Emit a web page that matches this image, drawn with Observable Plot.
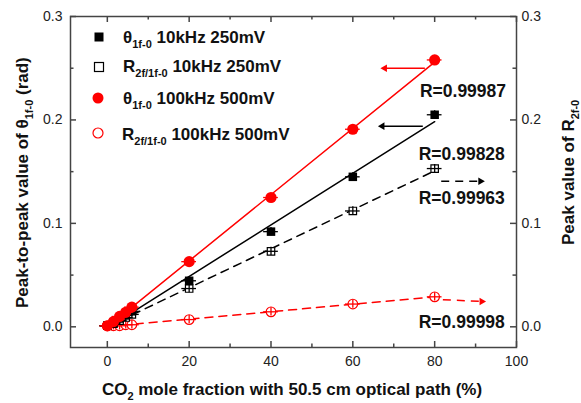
<!DOCTYPE html>
<html><head><meta charset="utf-8">
<script src="https://cdn.jsdelivr.net/npm/d3@7"></script>
<script src="https://cdn.jsdelivr.net/npm/@observablehq/plot@0.6"></script>
<style>
body{margin:0;background:#fff;}
#wrap{position:relative;width:581px;height:403px;font-family:"Liberation Sans",Arial,sans-serif;}
.leg{position:absolute;font-weight:bold;font-size:17px;white-space:nowrap;line-height:17px;color:#111;}
.leg sub{font-size:11px;vertical-align:-5px;line-height:0;}
.sym{position:absolute;}
</style></head><body><div id="wrap"></div>
<script>
// ---- data ----
const conc = [0, 1.5, 3, 4.5, 6, 20, 40, 60, 80];
const theta10k = [0.001, 0.004, 0.008, 0.011, 0.015, 0.0445, 0.092, 0.145, 0.205];
const r10k     = [0.001, 0.003, 0.006, 0.009, 0.012, 0.037, 0.073, 0.112, 0.153];
const theta100k= [0.001, 0.005, 0.010, 0.014, 0.019, 0.063, 0.125, 0.191, 0.258];
const r100k    = [0.001, 0.001, 0.001, 0.002, 0.002, 0.007, 0.0145, 0.022, 0.029];
const xErr = 1.8, yErr = 0.004;
const xTicks = [0, 20, 40, 60, 80, 100], xMinor = [10, 30, 50, 70, 90];
const yTicks = [0, 0.1, 0.2, 0.3], yMinor = [0.05, 0.15, 0.25];
const rTexts = ["R=0.99987", "R=0.99828", "R=0.99963", "R=0.99998"];
const rLabelX = [76.4, 76.1, 76.1, 76.1];
const rLabelY = [0.228, 0.167, 0.124, 0.004];
const arrowX1 = [77.6, 77.1, 81.6, 82.0];
const arrowX2 = [67.8, 67.2, 91.2, 91.5];
const arrowY1 = [0.250, 0.194, 0.1407, 0.0262];
const arrowY2 = [0.250, 0.194, 0.1407, 0.0245];
const arrowColor = ["red", "black", "black", "red"];
const arrowDashed = [false, false, true, true];

// ---- build tables ----
const mk = (vals) => conc.map((x, i) => ({x, y: vals[i]}));
const dT10 = mk(theta10k), dR10 = mk(r10k), dT100 = mk(theta100k), dR100 = mk(r100k);
const rLabels = rTexts.map((t, i) => ({t, x: rLabelX[i], y: rLabelY[i]}));
const arrows = arrowX1.map((x1, i) => ({x1, x2: arrowX2[i], y1: arrowY1[i], y2: arrowY2[i], c: arrowColor[i], d: arrowDashed[i]}));

const W = 581, H = 403, mL = 70, mR = 65, mT = 16, mB = 56;
const fw = W - mL - mR, fh = H - mT - mB;
const axisCol = "#444";

function errBars(data, color) {
  return [
    Plot.ruleY(data, {y: "y", x1: d => d.x - xErr, x2: d => d.x + xErr, stroke: color, strokeWidth: 1.3}),
    Plot.ruleX(data, {x: "x", y1: d => d.y - yErr, y2: d => d.y + yErr, stroke: color, strokeWidth: 1.3})
  ];
}

const chart = Plot.plot({
  width: W, height: H,
  marginLeft: mL, marginRight: mR, marginTop: mT, marginBottom: mB,
  x: {domain: [-9, 100]},
  y: {domain: [-0.02, 0.3]},
  color: {type: "identity"},
  style: {fontFamily: '"Liberation Sans", Arial, sans-serif', fontSize: "14px", color: "#222", background: "white"},
  marks: [
    // ticks (inward)
    Plot.ruleX(xTicks, {insetTop: fh - 6, stroke: axisCol, strokeWidth: 1.5}),
    Plot.ruleX(xMinor, {insetTop: fh - 3.5, stroke: axisCol, strokeWidth: 1.5}),
    Plot.ruleX(xTicks, {insetBottom: fh - 6, stroke: axisCol, strokeWidth: 1.5}),
    Plot.ruleX(xMinor, {insetBottom: fh - 3.5, stroke: axisCol, strokeWidth: 1.5}),
    Plot.ruleY(yTicks, {insetRight: fw - 6, stroke: axisCol, strokeWidth: 1.5}),
    Plot.ruleY(yMinor, {insetRight: fw - 3.5, stroke: axisCol, strokeWidth: 1.5}),
    Plot.ruleY(yTicks, {insetLeft: fw - 6, stroke: axisCol, strokeWidth: 1.5}),
    Plot.ruleY(yMinor, {insetLeft: fw - 3.5, stroke: axisCol, strokeWidth: 1.5}),
    Plot.axisX(xTicks, {tickSize: 0, tickPadding: 9, label: null}),
    Plot.axisY(yTicks, {anchor: "left", tickSize: 0, tickPadding: 8, tickFormat: d3.format(".1f"), label: null}),
    Plot.axisY(yTicks, {anchor: "right", tickSize: 0, tickPadding: 5, tickFormat: d3.format(".1f"), label: null}),
    // fits
    Plot.linearRegressionY(dR100, {x: "x", y: "y", ci: 0, stroke: "red", strokeWidth: 1.5, strokeDasharray: "8,6"}),
    Plot.linearRegressionY(dR10, {x: "x", y: "y", ci: 0, stroke: "black", strokeWidth: 1.5, strokeDasharray: "8,6"}),
    Plot.linearRegressionY(dT10, {x: "x", y: "y", ci: 0, stroke: "black", strokeWidth: 1.5}),
    Plot.linearRegressionY(dT100, {x: "x", y: "y", ci: 0, stroke: "red", strokeWidth: 1.5}),
    // markers
    Plot.dot(dR100, {x: "x", y: "y", r: 4.8, stroke: "red", fill: "white", strokeWidth: 1.2}),
    ...errBars(dR100, "red"),
    Plot.dot(dR10, {x: "x", y: "y", symbol: "square", r: 4.2, stroke: "black", fill: "white", strokeWidth: 1.2}),
    ...errBars(dR10, "black"),
    ...errBars(dT10, "black"),
    Plot.dot(dT10, {x: "x", y: "y", symbol: "square", r: 4.8, fill: "black"}),
    ...errBars(dT100, "red"),
    Plot.dot(dT100, {x: "x", y: "y", r: 5.6, fill: "red"}),
    // frame
    Plot.frame({stroke: axisCol, strokeWidth: 1.5}),
    // annotations: arrow shafts + filled heads
    Plot.link(arrows.filter(a => !a.d), {x1: "x1", y1: "y1", x2: "x2", y2: "y2", stroke: "c", strokeWidth: 1.5}),
    Plot.link(arrows.filter(a => a.d), {x1: "x1", y1: "y1", x2: "x2", y2: "y2", stroke: "c", strokeWidth: 1.5, strokeDasharray: "8,6"}),
    Plot.dot(arrows, {x: "x2", y: "y2", symbol: "triangle2", r: 3.6, fill: "c",
      rotate: d => d.x2 < d.x1 ? -90 : 90}),
    Plot.text(rLabels, {x: "x", y: "y", text: "t", textAnchor: "start", fontSize: 17.5, fontWeight: "bold", fill: "#111"})
  ]
});

const wrap = document.getElementById("wrap");
wrap.appendChild(chart);
const svg = d3.select(chart);

// axis titles with subscripts
function addLabel(parts, transform, anchor) {
  const t = svg.append("text").attr("transform", transform).attr("text-anchor", anchor)
    .attr("font-weight", "bold").attr("font-size", 17).attr("fill", "#111");
  parts.forEach(([s, sub]) => {
    const ts = t.append("tspan").text(s);
    if (sub === 1) ts.attr("font-size", 11).attr("dy", 5);
    if (sub === -1) ts.attr("dy", -5);
  });
}
addLabel([["CO"], ["2", 1], [" mole fraction with 50.5 cm optical path (%)", -1]], "translate(292,395)", "middle");
addLabel([["Peak-to-peak value of θ"], ["1f-0", 1], [" (rad)", -1]], "translate(28,308) rotate(-90)", "start");
addLabel([["Peak value of R"], ["2f-0", 1]], "translate(574,245) rotate(-90)", "start");

// legend
const legendRows = [
  {sym: '<rect x="2.5" y="2.5" width="9" height="9" fill="black"/>', cx: 99, cy: 37, html: 'θ<sub>1f-0</sub> 10kHz 250mV', tx: 123, ty: 29},
  {sym: '<rect x="2.5" y="2.5" width="9" height="9" fill="white" stroke="black" stroke-width="1.2"/>', cx: 99, cy: 67, html: 'R<sub>2f/1f-0</sub> 10kHz 250mV', tx: 123, ty: 58},
  {sym: '<circle cx="7" cy="7" r="5.5" fill="red"/>', cx: 98, cy: 98, html: 'θ<sub>1f-0</sub> 100kHz 500mV', tx: 123, ty: 90},
  {sym: '<circle cx="7" cy="7" r="5" fill="white" stroke="red" stroke-width="1.2"/>', cx: 97.5, cy: 133, html: 'R<sub>2f/1f-0</sub> 100kHz 500mV', tx: 122, ty: 126}
];
legendRows.forEach(r => {
  const s = document.createElement("div");
  s.className = "sym";
  s.style.left = (r.cx - 7) + "px"; s.style.top = (r.cy - 7) + "px";
  s.innerHTML = '<svg width="14" height="14">' + r.sym + '</svg>';
  wrap.appendChild(s);
  const t = document.createElement("div");
  t.className = "leg";
  t.style.left = r.tx + "px"; t.style.top = r.ty + "px";
  t.innerHTML = r.html;
  wrap.appendChild(t);
});
</script></body></html>
